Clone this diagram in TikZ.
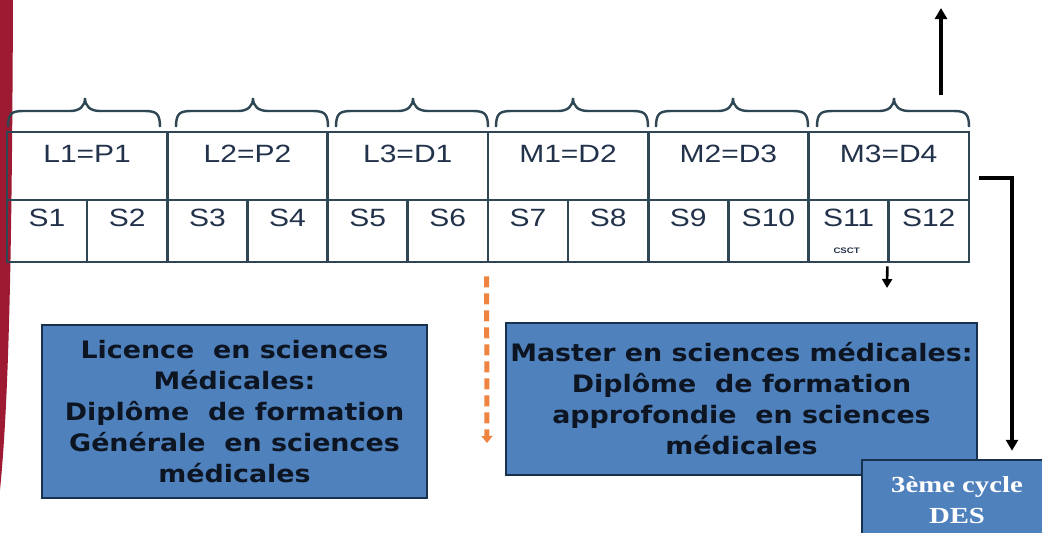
\documentclass[tikz,border=0pt]{standalone}
\usepackage{fontspec}
\newfontfamily\tabfont[FakeStretch=1.2]{Liberation Sans}
\newfontfamily\boxfont[FakeStretch=1.12]{DejaVu Sans}
\newfontfamily\desfont[FakeStretch=1.25]{Liberation Serif}
\usetikzlibrary{arrows.meta,calc}
\definecolor{tabline}{HTML}{2F4755}
\definecolor{tabtext}{HTML}{22324A}
\definecolor{boxblue}{HTML}{4F81BD}
\definecolor{boxedge}{HTML}{17324F}
\definecolor{boxtext}{HTML}{0E1522}
\definecolor{dashorange}{HTML}{EE8440}
\definecolor{barred}{HTML}{9E1A32}
\begin{document}
\begin{tikzpicture}[x=1pt,y=-1pt,
  cell/.style={draw=tabline,line width=2.6pt,inner sep=0pt},
  tablabel/.style={font=\tabfont\fontsize{25}{28}\selectfont,text=tabtext,inner sep=0pt},
  bracepath/.style={draw=tabline,line width=2.4pt},
  infobox/.style={draw=boxedge,line width=2.5pt,fill=boxblue,text=boxtext,align=center,inner sep=0pt,
     font=\boxfont\bfseries\fontsize{24}{31}\selectfont},
  arr/.style={draw=black,line width=4pt,-{Triangle[length=11pt,width=12pt]}},
  smallarr/.style={draw=black,line width=2.6pt,-{Triangle[length=9pt,width=10pt]}},
  dasharr/.style={draw=dashorange,line width=5pt,dash pattern=on 11pt off 6pt,-{Triangle[length=7pt,width=11pt]}}
]
\useasboundingbox[fill=white] (0,0) rectangle (1042,533);
% red side bar
\fill[barred] (0,0) -- (13,0) .. controls (12,250) and (9,400) .. (0,490) -- cycle;

% braces
\foreach \s in {8,176,336,496,656,817}{
  \draw[bracepath] (\s,127) .. controls (\s,113) and (\s+4,111) .. (\s+16,111) -- (\s+62,111)
     .. controls (\s+72,111) and (\s+77,106) .. (\s+77,98)
     .. controls (\s+77,106) and (\s+82,111) .. (\s+92,111) -- (\s+136,111)
     .. controls (\s+148,111) and (\s+152,113) .. (\s+152,127);
}

% year cells
\foreach \i/\lab in {1/{L1=P1},2/{L2=P2},3/{L3=D1},4/{M1=D2},5/{M2=D3},6/{M3=D4}}{
  \node[cell,minimum width=160.3pt,minimum height=68pt] (Y\i) at ({7+160.3*(\i-1)+80.15},166) {};
  \node[tablabel] (YL\i) at ($(Y\i.center)+(0,-12)$) {\lab};
}
% semester cells
\foreach \j in {1,...,12}{
  \node[cell,minimum width=80.15pt,minimum height=62pt] (S\j) at ({7+80.15*(\j-1)+40.075},231) {};
  \node[tablabel] (SL\j) at ($(S\j.center)+(0,-13)$) {S\j};
}
\node[font=\tabfont\bfseries\fontsize{8}{9}\selectfont,text=tabtext,inner sep=0pt] (csct) at ($(S11.center)+(-2,20)$) {CSCT};

% boxes
\node[infobox,minimum width=385pt,minimum height=173pt] (lic) at (234.5,411.5)
  {Licence\ \ en sciences\\Médicales:\\Diplôme\ \ de formation\\Générale\ \ en sciences\\médicales};
\node[infobox,minimum width=471pt,minimum height=152pt] (mas) at (741.5,399)
  {Master en sciences médicales:\\Diplôme\ \ de formation\\approfondie\ \ en sciences\\médicales};
\node[draw=boxedge,line width=2.5pt,fill=boxblue,text=white,align=center,inner sep=0pt,
  font=\desfont\bfseries\fontsize{23}{31}\selectfont,minimum width=190pt,minimum height=80pt] (des) at (957,500)
  {3ème cycle\\DES};

% connectors
\coordinate (upA) at (941,95);
\coordinate (upB) at (941,8);
\draw[arr] (upA) -- (upB);

\coordinate (turn) at (1012,178);
\draw[arr,shorten >=8pt] ($(Y6.east)+(9,12)$) -- (turn) -- (turn |- des.north);

\coordinate (smallEnd) at (887,288);
\draw[smallarr] ([yshift=-3pt]S12.south west) -- (smallEnd);

\coordinate (dashEnd) at (487,443);
\draw[dasharr] ([yshift=-13pt]S7.south west) -- (dashEnd);
\end{tikzpicture}
\end{document}
